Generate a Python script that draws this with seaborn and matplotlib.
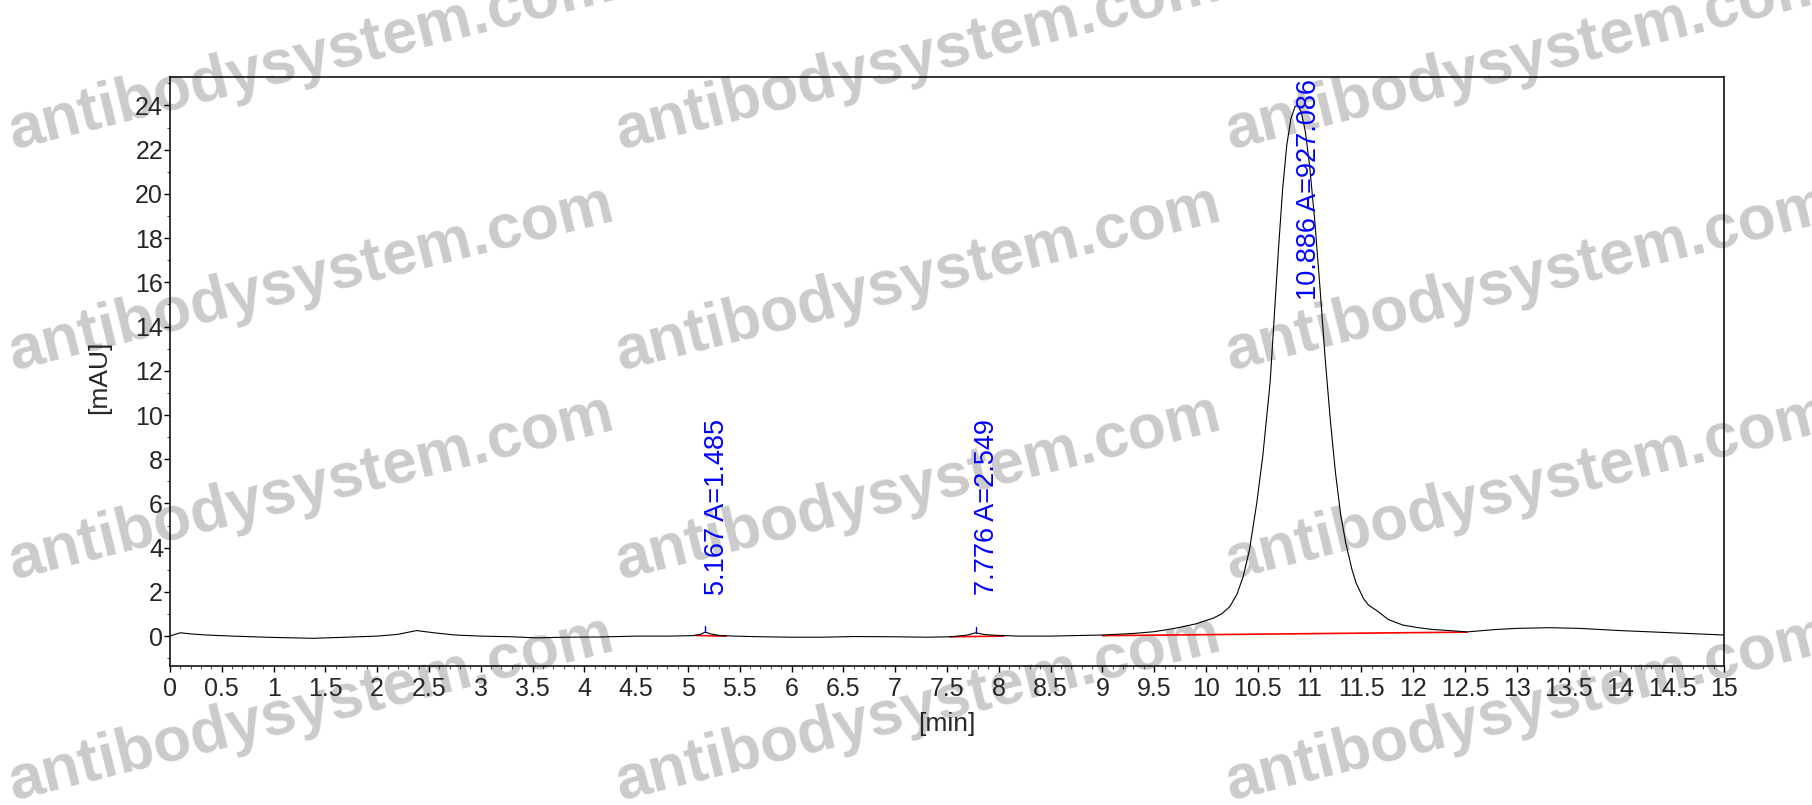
import matplotlib
matplotlib.use("Agg")
import matplotlib.pyplot as plt
from matplotlib.ticker import MultipleLocator, FormatStrFormatter
import seaborn as sns
import pandas as pd

# ---- data ----
time_min = [0.0, 0.05, 0.1, 0.2, 0.35, 0.6, 1.0, 1.38, 1.7, 2.0, 2.2, 2.38, 2.55,
            2.75, 3.0, 3.3, 3.54, 3.8, 4.15, 4.5, 4.8, 5.05, 5.12, 5.167, 5.22,
            5.3, 5.45, 5.7, 6.0, 6.3, 6.6, 7.0, 7.3, 7.55, 7.7, 7.776, 7.85, 7.95,
            8.2, 8.5, 8.8, 9.0, 9.3, 9.5, 9.7, 9.9, 10.07, 10.15, 10.23, 10.3,
            10.36, 10.42, 10.49, 10.55, 10.62, 10.66, 10.70, 10.74, 10.78, 10.82,
            10.86, 10.886, 10.92, 10.96, 11.0, 11.05, 11.1, 11.15, 11.2, 11.25,
            11.3, 11.35, 11.41, 11.45, 11.52, 11.57, 11.65, 11.76, 11.9,
            12.05, 12.19, 12.35, 12.52, 12.8, 13.0, 13.32, 13.6, 14.0, 14.5, 15.0]
signal_mau = [0.0, 0.08, 0.15, 0.1, 0.05, 0.0, -0.06, -0.1, -0.05, 0.0, 0.08, 0.25,
              0.15, 0.05, 0.0, -0.03, -0.08, -0.05, -0.04, 0.0, 0.0, 0.02, 0.08,
              0.18, 0.1, 0.03, 0.0, -0.03, -0.05, -0.05, -0.02, -0.03, -0.05,
              -0.03, 0.05, 0.15, 0.08, 0.04, 0.0, 0.0, 0.03, 0.05, 0.12, 0.2,
              0.35, 0.55, 0.81, 1.0, 1.33, 1.9, 2.7, 3.9, 6.0, 8.2, 11.5, 14.5,
              17.5, 20.2, 22.2, 23.4, 23.95, 24.0, 23.7, 22.8, 21.3, 18.8, 15.8,
              12.6, 9.8, 7.4, 5.5, 4.2, 3.0, 2.4, 1.7, 1.4, 1.15, 0.75,
              0.5, 0.38, 0.3, 0.25, 0.19, 0.3, 0.35, 0.38, 0.35, 0.25, 0.15, 0.05]

peak_times = [5.167, 7.776, 10.886]
peak_areas = ["1.485", "2.549", "927.086"]
peak_labels = [f"{t:.3f} A={a}" for t, a in zip(peak_times, peak_areas)]

baseline_t = [[5.07, 5.37], [7.53, 8.05], [9.0, 12.52]]
baseline_v = [[0.03, 0.0], [-0.03, 0.0], [0.02, 0.18]]

apex_marks_t = [5.167, 7.776]
apex_marks_v = [[0.18, 0.45], [0.15, 0.42]]

x_ticks = [i * 0.5 for i in range(31)]
y_ticks = list(range(0, 25, 2))

watermark = "antibodysystem.com"

# ---- styling ----
sns.set_style("ticks")
plt.rcParams["font.family"] = ["Liberation Sans", "DejaVu Sans"]

tick_fs = 18
label_fs = 19
peak_fs = 19.5
wm_fs = 45

fig = plt.figure(figsize=(18.12, 8.05), dpi=100)
fig.patch.set_facecolor("white")
ax = fig.add_axes([0.0938, 0.173, 0.8576, 0.7317])
ax.patch.set_alpha(0)

df = pd.DataFrame({"t": time_min, "v": signal_mau})
sns.lineplot(data=df, x="t", y="v", ax=ax, color="black", linewidth=0.8,
             sort=False, estimator=None)

for bt, bv in zip(baseline_t, baseline_v):
    ax.plot(bt, bv, color="red", linewidth=1.2, zorder=1)

for mt, mv in zip(apex_marks_t, apex_marks_v):
    ax.plot([mt, mt], mv, color="blue", linewidth=1.0)

for i, (t, lab) in enumerate(zip(peak_times, peak_labels)):
    if i < 2:
        ax.text(t + 0.11, 1.85, lab, rotation=90, ha="center", va="bottom",
                color="blue", fontsize=peak_fs)
    else:
        ax.text(t + 0.11, 25.2, lab, rotation=90, ha="center", va="top",
                color="blue", fontsize=peak_fs)

ax.set_xlim(0, 15)
ax.set_ylim(-1.34, 25.3)
ax.set_xticks(x_ticks)
ax.set_yticks(y_ticks)
ax.xaxis.set_major_formatter(FormatStrFormatter("%g"))
ax.xaxis.set_minor_locator(MultipleLocator(0.1))
ax.yaxis.set_minor_locator(MultipleLocator(1))
ax.tick_params(axis="both", which="major", direction="out", length=4, width=1,
               labelsize=tick_fs, color="black")
ax.tick_params(axis="both", which="minor", direction="out", length=2, width=0.8,
               color="#555555")
ax.tick_params(axis="x", which="major", pad=4)
ax.tick_params(axis="y", which="major", pad=1)

for s in ax.spines.values():
    s.set_visible(True)
    s.set_color("black")
    s.set_linewidth(1.1)

ax.set_xlabel("[min]", fontsize=label_fs)
ax.set_ylabel("[mAU]", fontsize=label_fs)
ax.xaxis.set_label_coords(0.5, -0.078)
ax.yaxis.set_label_coords(-0.038, 0.49)

# watermark
for xf in [0.007, 0.342, 0.679]:
    for yf in [0.814, 0.540, 0.280, 0.006]:
        fig.text(xf, yf, watermark, fontsize=wm_fs, fontweight="bold",
                 color="#cbcbcb", rotation=14, rotation_mode="anchor",
                 ha="left", va="baseline", zorder=-1)

fig.savefig("out.png", dpi=100, facecolor="white")
